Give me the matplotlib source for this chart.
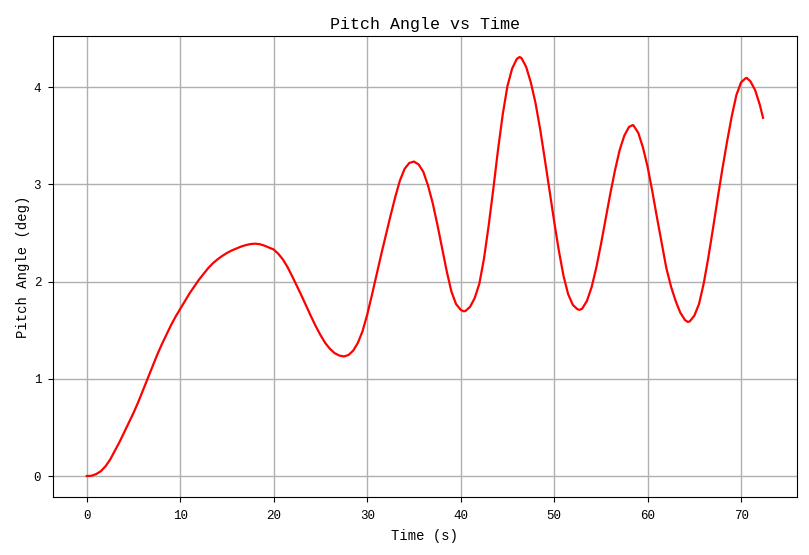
import matplotlib
matplotlib.use("Agg")
import matplotlib.pyplot as plt

time_s = [0, 0.5, 1, 1.5, 2, 2.5, 3, 3.5, 4, 4.5, 5, 5.5, 6, 6.5, 7, 7.5, 8, 8.5, 9, 9.5,
          10, 10.5, 11, 11.5, 12, 12.5, 13, 13.5, 14, 14.5, 15, 15.5, 16, 16.5, 17, 17.5, 18, 18.5, 19, 19.5,
          20, 20.5, 21, 21.5, 22, 22.5, 23, 23.5, 24, 24.5, 25, 25.5, 26, 26.5, 27, 27.5, 28, 28.5, 29, 29.5,
          30, 30.5, 31, 31.5, 32, 32.5, 33, 33.5, 34, 34.5, 35, 35.5, 36, 36.5, 37, 37.5, 38, 38.5, 39, 39.5,
          40, 40.3, 40.5, 41, 41.5, 42, 42.5, 43, 43.5, 44, 44.5, 45, 45.5, 46, 46.3, 46.5, 47, 47.5, 48, 48.5, 49, 49.5,
          50, 50.5, 51, 51.5, 52, 52.5, 52.75, 53, 53.5, 54, 54.5, 55, 55.5, 56, 56.5, 57, 57.5, 58, 58.4, 58.5, 59, 59.5,
          60, 60.5, 61, 61.5, 62, 62.5, 63, 63.5, 64, 64.3, 64.5, 65, 65.5, 66, 66.5, 67, 67.5, 68, 68.5, 69, 69.5,
          70, 70.5, 70.6, 71, 71.5, 72, 72.35]
pitch_deg = [0.000, 0.003, 0.020, 0.050, 0.100, 0.170, 0.260, 0.350, 0.450, 0.550, 0.650, 0.760, 0.880, 1.000, 1.120, 1.240, 1.350, 1.450, 1.550, 1.640,
             1.720, 1.800, 1.880, 1.950, 2.020, 2.080, 2.140, 2.190, 2.230, 2.265, 2.295, 2.320, 2.340, 2.360, 2.375, 2.386, 2.390, 2.385, 2.370, 2.350,
             2.330, 2.285, 2.225, 2.145, 2.050, 1.950, 1.850, 1.745, 1.640, 1.540, 1.450, 1.370, 1.310, 1.265, 1.240, 1.230, 1.245, 1.290, 1.370, 1.490,
             1.660, 1.860, 2.070, 2.280, 2.480, 2.680, 2.870, 3.040, 3.160, 3.220, 3.235, 3.205, 3.130, 2.990, 2.810, 2.590, 2.350, 2.110, 1.900, 1.770,
             1.710, 1.695, 1.697, 1.740, 1.830, 1.980, 2.240, 2.580, 2.960, 3.360, 3.720, 4.010, 4.190, 4.290, 4.310, 4.300, 4.210, 4.050, 3.840, 3.570, 3.260, 2.940,
             2.620, 2.320, 2.060, 1.870, 1.760, 1.715, 1.710, 1.722, 1.800, 1.940, 2.140, 2.380, 2.640, 2.900, 3.140, 3.350, 3.500, 3.590, 3.610, 3.605, 3.530, 3.380,
             3.180, 2.930, 2.660, 2.400, 2.140, 1.950, 1.800, 1.680, 1.605, 1.585, 1.590, 1.650, 1.770, 1.980, 2.250, 2.550, 2.860, 3.160, 3.440, 3.700, 3.920,
             4.050, 4.093, 4.095, 4.060, 3.970, 3.820, 3.685]

plt.rcParams['font.family'] = ['Liberation Mono', 'DejaVu Sans Mono']

fig = plt.figure(figsize=(8.09, 5.55), dpi=100)
ax = fig.add_axes([0.0655, 0.1045, 0.9195, 0.8305])
ax.plot(time_s, pitch_deg, color='red', linewidth=1.6)
ax.grid(True, color='#b0b0b0', linewidth=1.0)
ax.set_axisbelow(True)
ax.set_title('Pitch Angle vs Time', fontsize=12, pad=4.8)
ax.set_xlabel('Time (s)', fontsize=10, labelpad=5.5)
ax.set_ylabel('Pitch Angle (deg)', fontsize=10, labelpad=2.5)
ax.tick_params(axis='x', labelsize=9, pad=5.7)
ax.tick_params(axis='y', labelsize=9, pad=5)
ax.set_xticks([0, 10, 20, 30, 40, 50, 60, 70])
ax.set_yticks([0, 1, 2, 3, 4])
fig.savefig('out.png', dpi=100)
